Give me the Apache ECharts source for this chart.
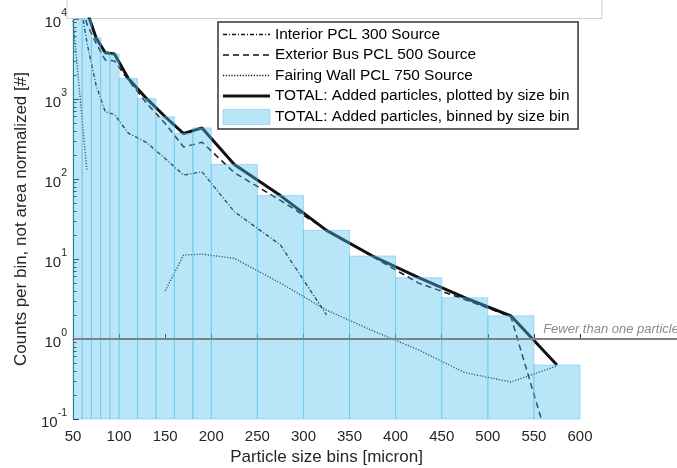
<!DOCTYPE html>
<html>
<head>
<meta charset="utf-8">
<script src="https://cdn.jsdelivr.net/npm/echarts@6/dist/echarts.min.js"></script>
<style>
  html, body { margin: 0; padding: 0; background: #ffffff; }
  #chart { width: 677px; height: 468px; }
</style>
</head>
<body>
<div id="chart"></div>
<script>
// Size-bin edges [micron] and the bin centres used for the line plots
const binEdges   = [50, 60, 70, 80, 90, 100, 120, 140, 160, 180, 200, 250, 300, 350, 400, 450, 500, 550, 600];
const binCenters = [55, 65, 75, 85, 95, 110, 130, 150, 170, 190, 225, 275, 325, 375, 425, 475, 525, 575];

// Counts per bin
const totalCounts    = [40000, 12600, 5840, 3790, 3650, 1810, 1010, 600, 370, 435, 152, 62, 22.8, 10.9, 5.84, 3.28, 1.95, 0.473];
const interiorCounts = [27000, 5150, 1500, 690, 640, 375, 285, 180, 112, 123, 39, 15, 2.0];
const exteriorCounts = [30000, 8700, 5000, 3070, 2990, 1730, 880, 495, 251, 288, 120, 54, 23, 10.7, 5.0, 3.12, 1.9, 0.022];
const fairingSizes   = [50, 65, 110, 150, 170, 190, 225, 275, 325, 375, 425, 475, 525, 575];
const fairingCounts  = [9500, 130, null, 4.0, 11.2, 11.5, 10.2, 5.0, 2.3, 1.27, 0.73, 0.38, 0.29, 0.46];

// Axis ranges and ticks
const xMin = 50, xMax = 600, xStep = 50;
const yMin = 0.1, yMax = 10000;
const minorMantissas = [2, 3, 4, 5, 6, 7, 8, 9];
const minorDecades = [-1, 0, 1, 2, 3];

// Reference level
const fewerThanOneLevel = 1;
const fewerThanOneText = 'Fewer than one particle';
const fewerThanOneTextX = 560;

const seriesNames = [
  'Interior PCL 300 Source',
  'Exterior Bus PCL 500 Source',
  'Fairing Wall PCL 750 Source',
  'TOTAL: Added particles, plotted by size bin',
  'TOTAL: Added particles, binned by size bin'
];

const FONT = '"Liberation Sans", Arial, Helvetica, sans-serif';
const AXIS_COLOR = '#262626';
const LINE_COLOR = '#111111';
const BAR_FILL = 'rgba(77,191,237,0.4)';
const BAR_EDGE = 'rgba(77,191,237,0.45)';

const pairs = (xs, ys) => ys.map((v, i) => [xs[i], v == null ? '-' : v]);
const histData = totalCounts.map((v, i) => [binEdges[i], binEdges[i + 1], v]);
const minorTickValues = [];
minorDecades.forEach(d => minorMantissas.forEach(m => minorTickValues.push(d + Math.log10(m))));

const chart = echarts.init(document.getElementById('chart'), null, { renderer: 'canvas' });

const lineSeries = (name, data, type, width) => ({
  name, type: 'line', data, z: 2,
  symbol: 'none', showSymbol: false, connectNulls: false, clip: true,
  lineStyle: { color: LINE_COLOR, width, type },
  itemStyle: { color: LINE_COLOR },
  emphasis: { disabled: true }, animation: false
});

const lineLegendItem = (name, width) => ({
  name, itemStyle: { opacity: 0 }, lineStyle: { width }
});

const option = {
  backgroundColor: '#ffffff',
  animation: false,
  textStyle: { fontFamily: FONT },
  grid: { left: 73, right: 97, top: 19, bottom: 49, containLabel: false, outerBoundsMode: 'none' },
  xAxis: {
    type: 'value', min: xMin, max: xMax, interval: xStep,
    name: 'Particle size bins [micron]', nameLocation: 'middle', nameGap: 30,
    nameTextStyle: { fontSize: 17, color: AXIS_COLOR, fontFamily: FONT },
    axisLine: { show: true, lineStyle: { color: AXIS_COLOR, width: 1 } },
    axisTick: { show: true, inside: true, length: 5, lineStyle: { color: AXIS_COLOR } },
    axisLabel: { fontSize: 15, color: AXIS_COLOR, margin: 10, fontFamily: FONT },
    splitLine: { show: false }
  },
  yAxis: [
    {
      type: 'log', logBase: 10, min: yMin, max: yMax, position: 'left',
      name: 'Counts per bin, not area normalized [#]', nameLocation: 'middle', nameGap: 41,
      nameTextStyle: { fontSize: 17, color: AXIS_COLOR, fontFamily: FONT },
      axisLine: { show: true, lineStyle: { color: AXIS_COLOR, width: 1 } },
      axisTick: { show: true, inside: true, length: 6, lineStyle: { color: AXIS_COLOR } },
      axisLabel: {
        margin: 6,
        formatter: v => '{b|10}{e|' + Math.round(Math.log10(v)) + '}',
        rich: {
          b: { fontSize: 15, color: AXIS_COLOR, fontFamily: FONT, lineHeight: 22, verticalAlign: 'bottom' },
          e: { fontSize: 10.5, color: AXIS_COLOR, fontFamily: FONT, lineHeight: 8, verticalAlign: 'top' }
        }
      },
      splitLine: { show: false }
    },
    {
      type: 'value', min: -1, max: 4, position: 'left',
      axisLine: { show: false },
      axisLabel: { show: false },
      splitLine: { show: false },
      axisTick: { show: true, inside: true, length: 3.5, customValues: minorTickValues, lineStyle: { color: AXIS_COLOR } }
    }
  ],
  legend: {
    orient: 'vertical', left: 218, top: 22,
    itemWidth: 47, itemHeight: 15, itemGap: 5.5,
    padding: [5, 8.5, 4, 3.5],
    borderColor: '#333333', borderWidth: 1.5, backgroundColor: '#ffffff',
    selectedMode: false,
    textStyle: { fontSize: 15.4, color: '#000000', fontFamily: FONT },
    data: [
      lineLegendItem(seriesNames[0], 1.3),
      lineLegendItem(seriesNames[1], 1.3),
      lineLegendItem(seriesNames[2], 1.3),
      lineLegendItem(seriesNames[3], 3),
      { name: seriesNames[4], icon: 'rect', itemStyle: { color: BAR_FILL, borderColor: BAR_EDGE, borderWidth: 1 } }
    ]
  },
  series: [
    lineSeries(seriesNames[0], pairs(binCenters, interiorCounts), [4, 2, 1, 2], 1.4),
    lineSeries(seriesNames[1], pairs(binCenters, exteriorCounts), [6, 4], 1.5),
    lineSeries(seriesNames[2], pairs(fairingSizes, fairingCounts), [1.2, 1.6], 1.3),
    lineSeries(seriesNames[3], pairs(binCenters, totalCounts), 'solid', 3),
    {
      name: seriesNames[4], type: 'custom', z: 3,
      data: histData,
      encode: { x: [0, 1], y: 2 },
      itemStyle: { color: BAR_FILL },
      renderItem: (params, api) => {
        const x0 = api.value(0), x1 = api.value(1), v = api.value(2);
        const p0 = api.coord([x0, v]);
        const p1 = api.coord([x1, yMin]);
        const cs = params.coordSys;
        const rect = echarts.graphic.clipRectByRect(
          { x: p0[0], y: p0[1], width: p1[0] - p0[0], height: p1[1] - p0[1] },
          { x: cs.x, y: cs.y, width: cs.width, height: cs.height }
        );
        if (!rect) return null;
        return {
          type: 'rect', shape: rect,
          style: { fill: BAR_FILL, stroke: BAR_EDGE, lineWidth: 1 }
        };
      },
      emphasis: { disabled: true }, animation: false
    }
  ],
  graphic: [
    {
      id: 'upperPanel', type: 'rect', z: 1,
      shape: { x: 67, y: -2, width: 535, height: 20.5 },
      style: { fill: '#ffffff', stroke: '#cdcdcd', lineWidth: 1 }
    }
  ]
};

chart.setOption(option);

// Horizontal "fewer than one" level, positioned through the axis scales
const lvlStart = chart.convertToPixel({ gridIndex: 0 }, [xMin, fewerThanOneLevel]);
const lvlText = chart.convertToPixel({ gridIndex: 0 }, [fewerThanOneTextX, fewerThanOneLevel]);
chart.setOption({
  graphic: [
    {
      id: 'fewerLine', type: 'line', z: 50,
      shape: { x1: lvlStart[0], y1: lvlStart[1], x2: chart.getWidth(), y2: lvlStart[1] },
      style: { stroke: '#808080', lineWidth: 2 }
    },
    {
      id: 'fewerText', type: 'text', z: 50,
      x: lvlText[0], y: lvlStart[1] - 3,
      style: {
        text: fewerThanOneText, fill: '#8a8a8a',
        fontSize: 13, fontStyle: 'italic', fontFamily: FONT,
        align: 'left', verticalAlign: 'bottom'
      }
    }
  ]
});
</script>
</body>
</html>
